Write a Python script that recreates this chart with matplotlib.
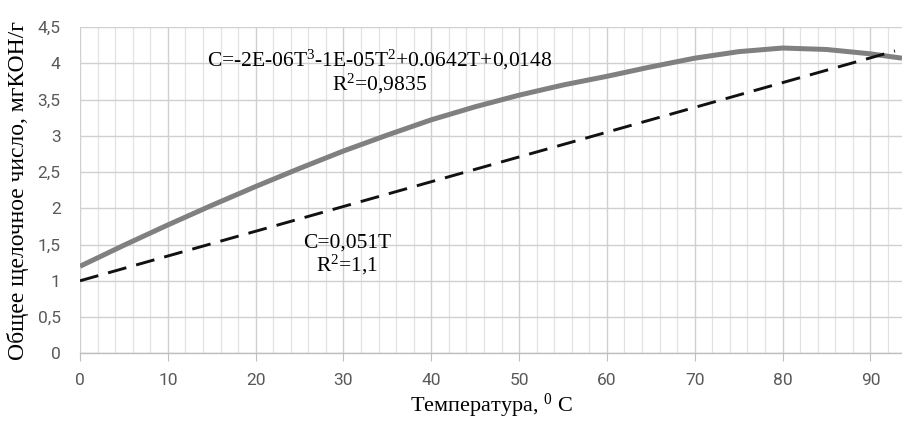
import matplotlib.pyplot as plt
from matplotlib.ticker import MultipleLocator, FuncFormatter

# values
temp = [0, 5, 10, 15, 20, 25, 30, 35, 40, 45, 50, 55, 60, 65, 70, 75, 80, 85, 90, 93.6]
tbn = [1.2, 1.49, 1.77, 2.04, 2.30, 2.55, 2.79, 3.01, 3.22, 3.40, 3.56, 3.70, 3.82,
       3.95, 4.07, 4.16, 4.21, 4.19, 4.13, 4.07]
trend_t = [0, 92.8]
trend_c = [1.0, 4.17]

poly_text = "C=-2E-06T$\\mathregular{^3}$-1E-05T$\\mathregular{^2}$+0.0642T+0,0148\nR$\\mathregular{^2}$=0,9835"
lin_text = "C=0,051T\nR$\\mathregular{^2}$=1,1"

plt.rcParams['mathtext.fontset'] = 'custom'
plt.rcParams['mathtext.rm'] = 'Liberation Serif'

fig = plt.figure(figsize=(9.02, 4.23), dpi=100)
ax = fig.add_axes([80 / 902, 1 - 353.3 / 423, 1 - 80 / 902, (353.3 - 27) / 423])

ax.plot(temp, tbn, color='#808080', lw=3.6, solid_capstyle='butt', zorder=3)
ax.plot(trend_t, trend_c, color='#111111', lw=2.1, dashes=(6.5, 3.5), zorder=4)

ax.set_xlim(0, 93.6)
ax.set_ylim(0, 4.5)
ax.xaxis.set_major_locator(MultipleLocator(10))
ax.xaxis.set_minor_locator(MultipleLocator(2))
ax.yaxis.set_major_locator(MultipleLocator(0.5))
ax.yaxis.set_major_formatter(FuncFormatter(lambda v, p: ('%g' % v).replace('.', ',')))

ax.grid(which='major', color='#d0d0d0', lw=1.0)
ax.grid(which='minor', axis='x', color='#e2e2e2', lw=0.9)
ax.set_axisbelow(True)

for s in ['top', 'right', 'left']:
    ax.spines[s].set_visible(False)
ax.spines['bottom'].set_color('#bfbfbf')
ax.spines['bottom'].set_linewidth(1.0)

ax.tick_params(axis='x', which='major', length=6, color='#bfbfbf', pad=8,
               labelsize=12.5, labelcolor='#595959')
ax.tick_params(axis='x', which='minor', length=0)
ax.tick_params(axis='y', length=0, pad=14, labelsize=12.5, labelcolor='#595959')
for lab in ax.get_xticklabels() + ax.get_yticklabels():
    lab.set_fontfamily('Roboto')

ax.text(34.1, 3.88, poly_text, ha='center', va='center', fontsize=15.5,
        family='Liberation Serif', linespacing=1.0)
ax.text(30.4, 1.35, lin_text, ha='center', va='center', fontsize=15.5,
        family='Liberation Serif', linespacing=1.0)

ax.set_xlabel("Температура, $\\mathregular{^0}$ С", fontsize=16,
              family='Liberation Serif', labelpad=3)
ax.set_ylabel("Общее щелочное число, мгКОН/г", fontsize=17,
              family='Liberation Serif', labelpad=6)

fig.savefig('out.png', dpi=100)
